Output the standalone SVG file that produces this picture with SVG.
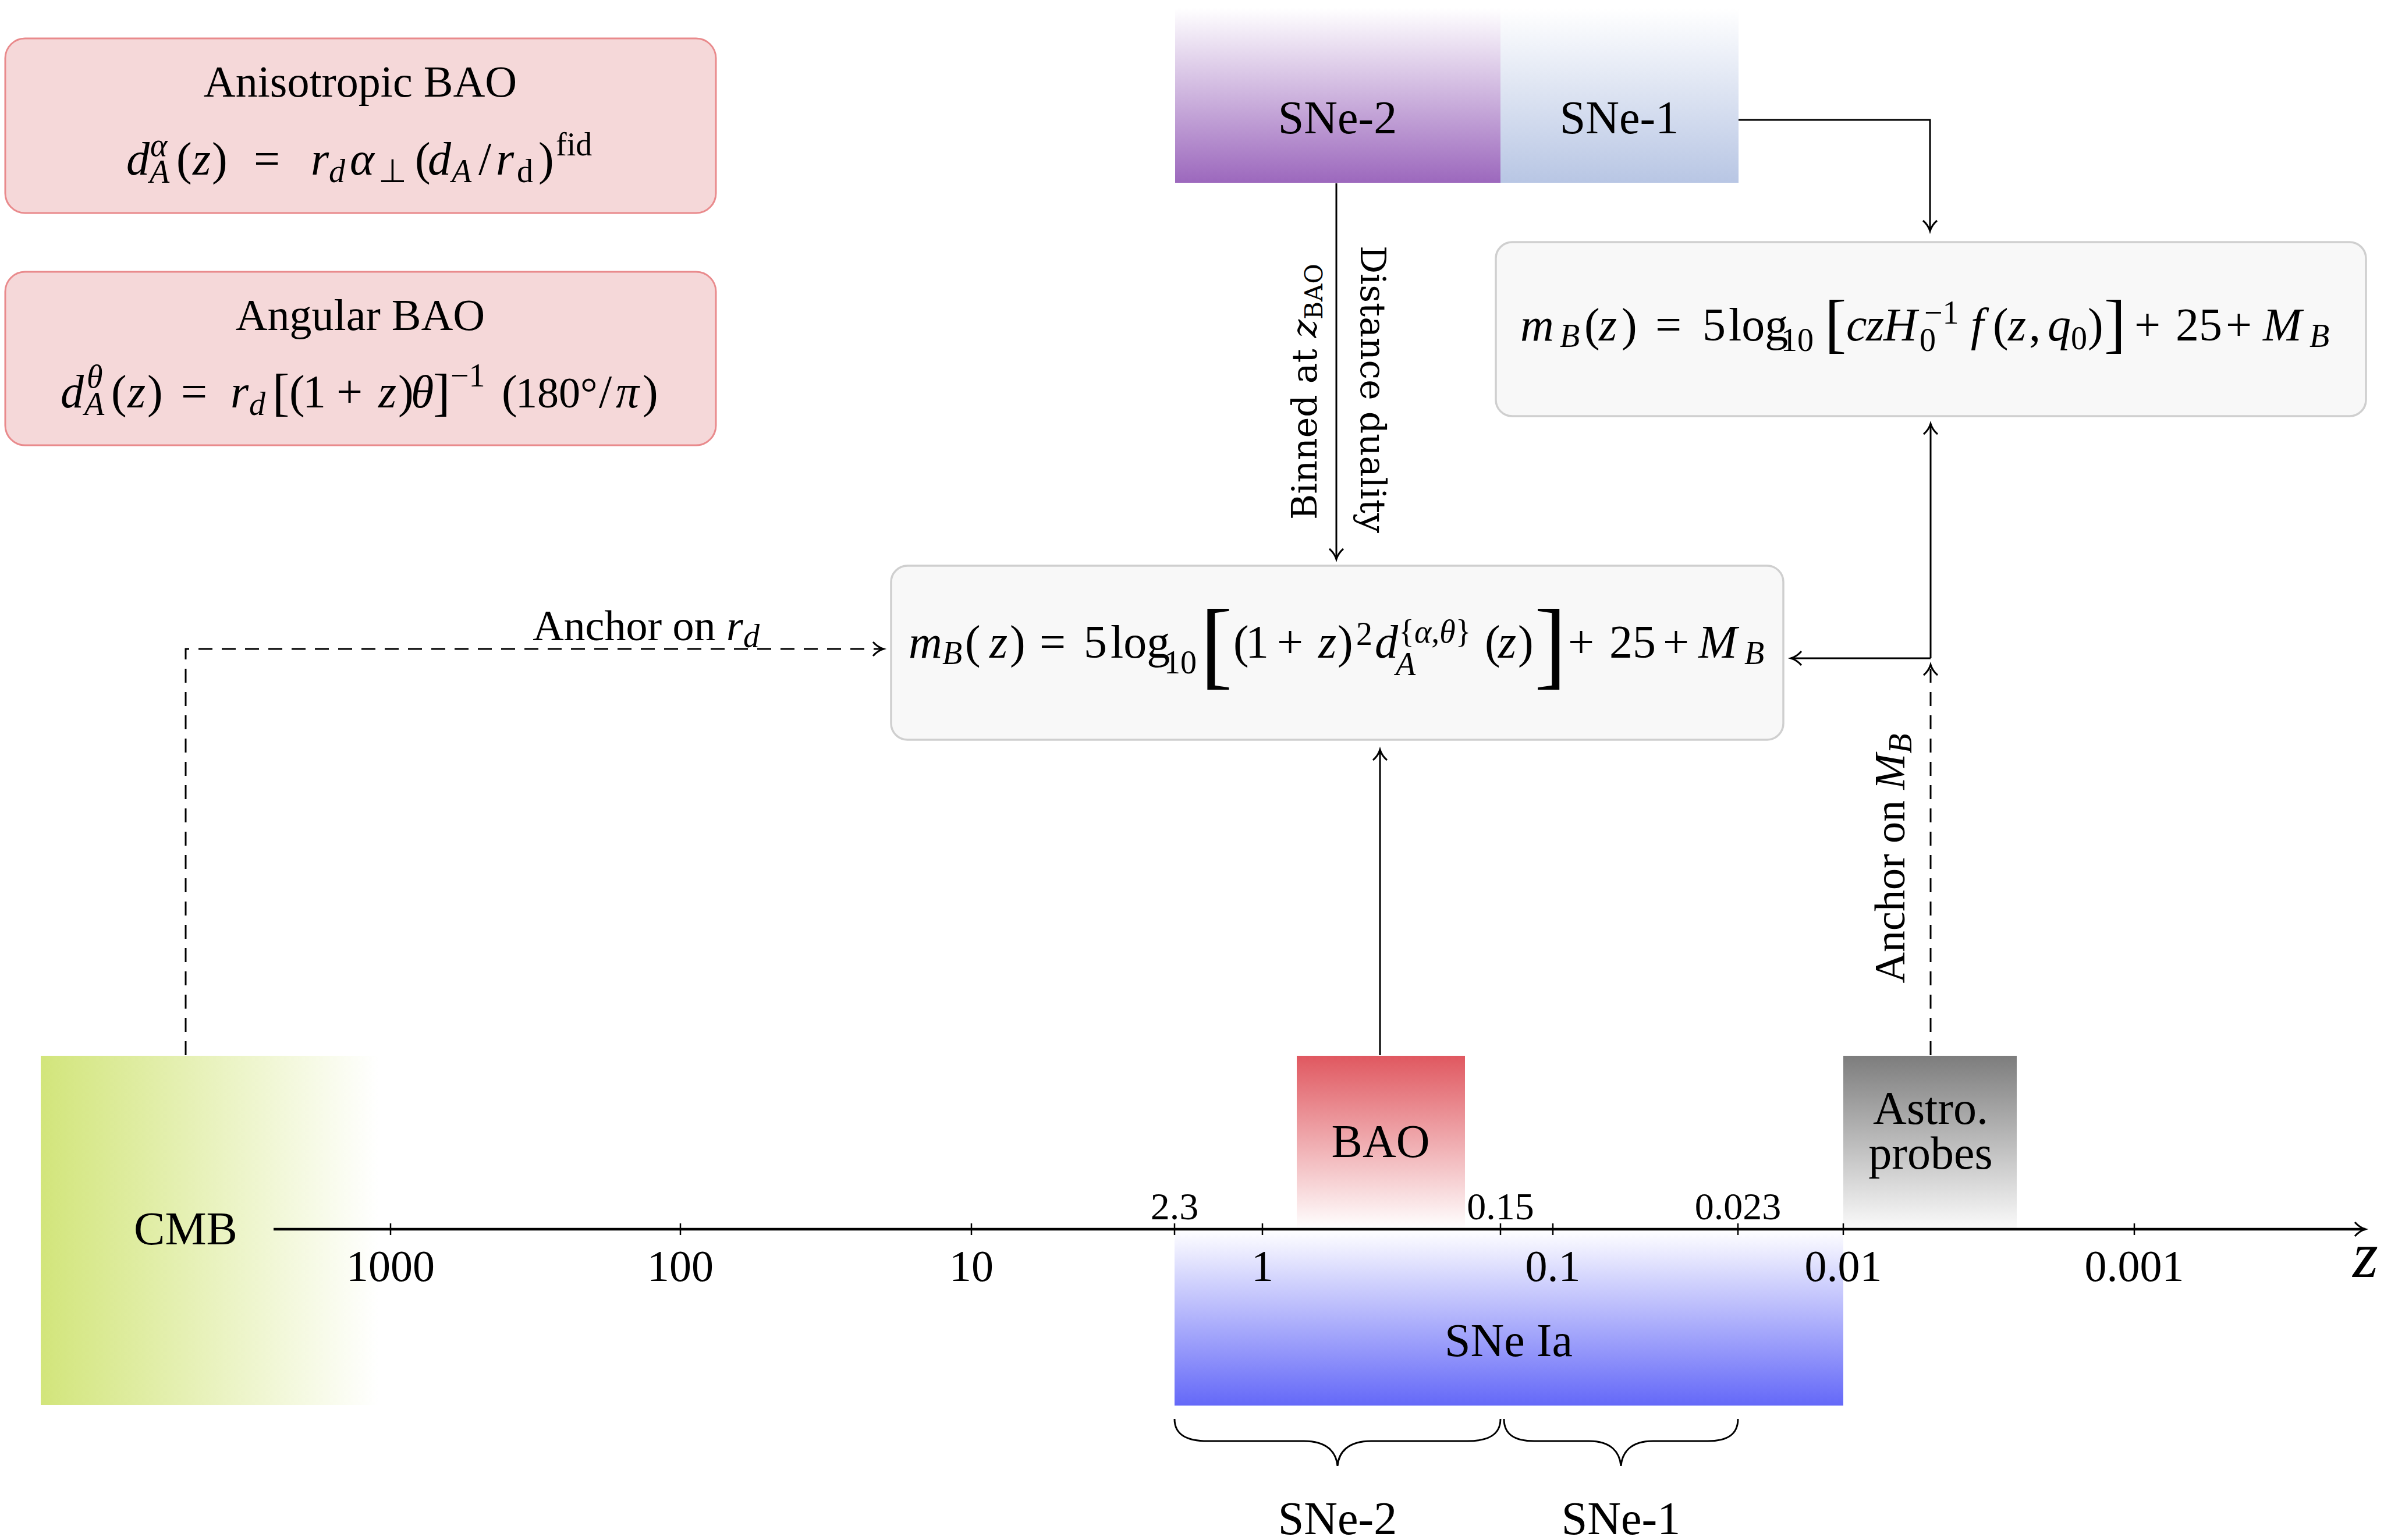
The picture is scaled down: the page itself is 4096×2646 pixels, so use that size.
<svg xmlns="http://www.w3.org/2000/svg" width="4096" height="2646" viewBox="0 0 4096 2646">
<style>
text{font-family:"Liberation Serif","Times New Roman",serif;fill:#000}
.i{font-style:italic}
.m{font-size:80px}
.s{font-size:56px}
.lbl{font-size:80px}
.tk{font-size:76px}
.tk2{font-size:66px}
.ttl{font-size:76px}
.an{font-size:74px}
.dv{font-family:"DejaVu Serif",serif;font-size:60px}
.pink{fill:#f5d8d9;stroke:#e98a8c;stroke-width:3}
.gray{fill:#f8f8f8;stroke:#cfcfcf;stroke-width:3.5}
.ln{fill:none;stroke:#000;stroke-width:3}
.dash{fill:none;stroke:#000;stroke-width:3;stroke-dasharray:24 16}
.tick{stroke:#000;stroke-width:2.5}
.brace{fill:none;stroke:#000;stroke-width:3}
</style>
<defs>
<marker id="arr" viewBox="-22 -16 26 32" refX="0" refY="0" markerWidth="26" markerHeight="32" markerUnits="userSpaceOnUse" orient="auto" overflow="visible">
<path d="M -18 -12 C -12 -5 -5 -1.5 0 0 C -5 1.5 -12 5 -18 12" fill="none" stroke="#000" stroke-width="3"/>
</marker>
<linearGradient id="gCMB" x1="0" y1="0" x2="1" y2="0"><stop offset="0" stop-color="#d2e57b"/><stop offset="1" stop-color="#ffffff"/></linearGradient>
<linearGradient id="gBAO" x1="0" y1="0" x2="0" y2="1"><stop offset="0" stop-color="#e05860"/><stop offset="1" stop-color="#ffffff"/></linearGradient>
<linearGradient id="gAstro" x1="0" y1="0" x2="0" y2="1"><stop offset="0" stop-color="#7d7d7d"/><stop offset="1" stop-color="#fafafa"/></linearGradient>
<linearGradient id="gSNe" x1="0" y1="0" x2="0" y2="1"><stop offset="0" stop-color="#ffffff"/><stop offset="1" stop-color="#6468f8"/></linearGradient>
<linearGradient id="gS2" x1="0" y1="0" x2="0" y2="1"><stop offset="0" stop-color="#ffffff"/><stop offset="1" stop-color="#9c68bd"/></linearGradient>
<linearGradient id="gS1" x1="0" y1="0" x2="0" y2="1"><stop offset="0" stop-color="#ffffff"/><stop offset="1" stop-color="#b8c6e4"/></linearGradient>
</defs>
<rect width="4096" height="2646" fill="#fff"/>

<g id="node-aniso">
<rect class="pink" x="9" y="66" width="1221" height="300" rx="34"/>
<text class="ttl" x="619" y="166" text-anchor="middle">Anisotropic BAO</text>
<text class="m"><tspan class="i" x="217" y="300">d</tspan><tspan class="i s" x="258" y="268">α</tspan><tspan class="i s" x="257" y="314">A</tspan><tspan x="303" y="300">(</tspan><tspan class="i" x="331" y="300">z</tspan><tspan x="364" y="300">)</tspan><tspan x="436" y="300">=</tspan><tspan class="i" x="534" y="300">r</tspan><tspan class="i s" x="565" y="313">d</tspan><tspan class="i" x="601" y="300">α</tspan><tspan class="s" x="650" y="313">⊥</tspan><tspan x="713" y="300">(</tspan><tspan class="i" x="735" y="300">d</tspan><tspan class="i s" x="776" y="313">A</tspan><tspan x="822" y="300">/</tspan><tspan class="i" x="852" y="300">r</tspan><tspan class="s" x="888" y="313">d</tspan><tspan x="925" y="300">)</tspan><tspan class="s" x="955" y="267">fid</tspan></text>
</g>

<g id="node-angular">
<rect class="pink" x="9" y="467" width="1221" height="298" rx="34"/>
<text class="ttl" x="619" y="567" text-anchor="middle">Angular BAO</text>
<text class="m"><tspan class="i" x="104" y="700">d</tspan><tspan class="i s" x="149" y="666">θ</tspan><tspan class="i s" x="145" y="713">A</tspan><tspan x="191" y="700">(</tspan><tspan class="i" x="219" y="700">z</tspan><tspan x="253" y="700">)</tspan><tspan x="311" y="700">=</tspan><tspan class="i" x="396" y="700">r</tspan><tspan class="i s" x="428" y="713">d</tspan><tspan x="468" y="704" style="font-size:88px">[</tspan><tspan x="497" y="700">(</tspan><tspan x="520" y="700">1</tspan><tspan x="578" y="700">+</tspan><tspan class="i" x="650" y="700">z</tspan><tspan x="684" y="700">)</tspan><tspan class="i" x="706" y="700">θ</tspan><tspan x="744" y="704" style="font-size:88px">]</tspan><tspan class="s" x="774" y="664">−1</tspan><tspan x="862" y="700">(</tspan><tspan x="886" y="700" style="font-size:74px">180°</tspan><tspan x="1029" y="700">/</tspan><tspan class="i" x="1058" y="700">π</tspan><tspan x="1104" y="700">)</tspan></text>
</g>

<g id="node-sne2-top">
<rect x="2019" y="14" width="559" height="300" fill="url(#gS2)"/>
<text class="lbl" x="2298" y="229" text-anchor="middle">SNe-2</text>
</g>
<g id="node-sne1-top">
<rect x="2578" y="14" width="409" height="300" fill="url(#gS1)"/>
<text class="lbl" x="2782" y="229" text-anchor="middle">SNe-1</text>
</g>

<g id="node-eq-top">
<rect class="gray" x="2570" y="416" width="1495" height="299" rx="28"/>
<text class="m"><tspan class="i" x="2612" y="585">m</tspan><tspan class="i s" x="2680" y="596">B</tspan><tspan x="2722" y="585">(</tspan><tspan class="i" x="2747" y="585">z</tspan><tspan x="2786" y="585">)</tspan><tspan x="2844" y="585">=</tspan><tspan x="2925" y="585">5</tspan><tspan x="2970" y="585">log</tspan><tspan class="s" x="3060" y="603">10</tspan><tspan x="3135" y="593" style="font-size:112px">[</tspan><tspan class="i" x="3172" y="585">c</tspan><tspan class="i" x="3206" y="585">z</tspan><tspan class="i" x="3236" y="585">H</tspan><tspan class="s" x="3298" y="603">0</tspan><tspan class="s" x="3306" y="556">−1</tspan><tspan class="i" x="3386" y="585">f</tspan><tspan x="3424" y="585">(</tspan><tspan class="i" x="3450" y="585">z</tspan><tspan x="3486" y="585">,</tspan><tspan class="i" x="3518" y="585">q</tspan><tspan class="s" x="3558" y="600">0</tspan><tspan x="3587" y="585">)</tspan><tspan x="3615" y="593" style="font-size:112px">]</tspan><tspan x="3667" y="585">+</tspan><tspan x="3738" y="585">25</tspan><tspan x="3824" y="585">+</tspan><tspan class="i" x="3888" y="585">M</tspan><tspan class="i s" x="3968" y="596">B</tspan></text>
</g>

<g id="node-eq-mid">
<rect class="gray" x="1531" y="972" width="1533" height="299" rx="28"/>
<text class="m"><tspan class="i" x="1561" y="1130">m</tspan><tspan class="i s" x="1619" y="1141">B</tspan><tspan x="1658" y="1130">(</tspan><tspan class="i" x="1700" y="1130">z</tspan><tspan x="1735" y="1130">)</tspan><tspan x="1786" y="1130">=</tspan><tspan x="1862" y="1130">5</tspan><tspan x="1908" y="1130">log</tspan><tspan class="s" x="2000" y="1157">10</tspan><tspan x="2062" y="1163" style="font-size:167px">[</tspan><tspan x="2119" y="1130">(</tspan><tspan x="2140" y="1130">1</tspan><tspan x="2194" y="1130">+</tspan><tspan class="i" x="2265" y="1130">z</tspan><tspan x="2298" y="1130">)</tspan><tspan class="s" x="2330" y="1108">2</tspan><tspan class="i" x="2362" y="1130">d</tspan><tspan class="i s" x="2398" y="1160">A</tspan><tspan class="s" x="2403" y="1104">{<tspan class="i">α</tspan>,<tspan class="i">θ</tspan>}</tspan><tspan x="2551" y="1130">(</tspan><tspan class="i" x="2574" y="1130">z</tspan><tspan x="2608" y="1130">)</tspan><tspan x="2636" y="1163" style="font-size:167px">]</tspan><tspan x="2694" y="1130">+</tspan><tspan x="2765" y="1130">25</tspan><tspan x="2857" y="1130">+</tspan><tspan class="i" x="2918" y="1130">M</tspan><tspan class="i s" x="2997" y="1141">B</tspan></text>
</g>

<g id="node-cmb">
<rect x="70" y="1814" width="580" height="600" fill="url(#gCMB)"/>
<text class="lbl" x="319" y="2138" text-anchor="middle">CMB</text>
</g>
<g id="node-snia">
<rect x="2018" y="2112" width="1149" height="303" fill="url(#gSNe)"/>
<text class="lbl" x="2592" y="2330" text-anchor="middle">SNe Ia</text>
</g>
<g id="node-bao">
<rect x="2228" y="1814" width="289" height="298" fill="url(#gBAO)"/>
<text class="lbl" x="2372" y="1988" text-anchor="middle">BAO</text>
</g>
<g id="node-astro">
<rect x="3167" y="1814" width="298" height="298" fill="url(#gAstro)"/>
<text class="lbl" x="3317" y="1931" text-anchor="middle">Astro.</text>
<text class="lbl" x="3317" y="2008" text-anchor="middle">probes</text>
</g>

<g id="axis">
<line x1="470" y1="2112" x2="4064" y2="2112" stroke="#000" stroke-width="4.5" marker-end="url(#arr)"/>
<g class="tick">
<line x1="671" y1="2102" x2="671" y2="2122"/>
<line x1="1169" y1="2102" x2="1169" y2="2122"/>
<line x1="1669" y1="2102" x2="1669" y2="2122"/>
<line x1="2018" y1="2102" x2="2018" y2="2122"/>
<line x1="2169" y1="2102" x2="2169" y2="2122"/>
<line x1="2578" y1="2102" x2="2578" y2="2122"/>
<line x1="2668" y1="2102" x2="2668" y2="2122"/>
<line x1="2986" y1="2102" x2="2986" y2="2122"/>
<line x1="3167" y1="2102" x2="3167" y2="2122"/>
<line x1="3667" y1="2102" x2="3667" y2="2122"/>
</g>
<text class="tk" x="671" y="2201" text-anchor="middle">1000</text>
<text class="tk" x="1169" y="2201" text-anchor="middle">100</text>
<text class="tk" x="1669" y="2201" text-anchor="middle">10</text>
<text class="tk" x="2169" y="2201" text-anchor="middle">1</text>
<text class="tk" x="2668" y="2201" text-anchor="middle">0.1</text>
<text class="tk" x="3167" y="2201" text-anchor="middle">0.01</text>
<text class="tk" x="3667" y="2201" text-anchor="middle">0.001</text>
<text class="tk2" x="2018" y="2095" text-anchor="middle">2.3</text>
<text class="tk2" x="2578" y="2095" text-anchor="middle">0.15</text>
<text class="tk2" x="2986" y="2095" text-anchor="middle">0.023</text>
<text class="i" x="4064" y="2194" text-anchor="middle" style="font-size:112px">z</text>
</g>

<g id="braces">
<path class="brace" d="M 2018 2438 C 2018 2466 2040 2476 2075 2476 H 2240 C 2280 2476 2296 2495 2298 2519 C 2300 2495 2316 2476 2356 2476 H 2521 C 2556 2476 2578 2466 2578 2438"/>
<path class="brace" d="M 2584 2438 C 2584 2466 2604 2476 2636 2476 H 2730 C 2768 2476 2783 2495 2785 2519 C 2787 2495 2802 2476 2840 2476 H 2934 C 2966 2476 2986 2466 2986 2438"/>
<text class="lbl" x="2298" y="2636" text-anchor="middle">SNe-2</text>
<text class="lbl" x="2785" y="2636" text-anchor="middle">SNe-1</text>
</g>

<g id="connectors">
<path class="ln" d="M 2296 315 V 961" marker-end="url(#arr)"/>
<path class="ln" d="M 2987 206 H 3316 V 397" marker-end="url(#arr)"/>
<path class="dash" d="M 319 1813 V 1115 H 1518" marker-end="url(#arr)"/>
<path class="ln" d="M 2371 1813 V 1288" marker-end="url(#arr)"/>
<path class="dash" d="M 3317 1813 V 1142" marker-end="url(#arr)"/>
<path class="ln" d="M 3317 1131 H 3077" marker-end="url(#arr)"/>
<path class="ln" d="M 3317 1131 V 728" marker-end="url(#arr)"/>
<text class="an" x="1110" y="1100" text-anchor="middle">Anchor on <tspan class="i">r</tspan><tspan class="i s" dy="12">d</tspan></text>
<text class="dv" transform="translate(2262 673) rotate(-90)" text-anchor="middle">Binned at <tspan class="i">z</tspan><tspan style="font-size:42px" dy="10">BAO</tspan></text>
<text class="dv" transform="translate(2338 669) rotate(90)" text-anchor="middle">Distance duality</text>
<text class="an" transform="translate(3272 1475) rotate(-90)" text-anchor="middle">Anchor on <tspan class="i">M</tspan><tspan class="i s" dy="12">B</tspan></text>
</g>
</svg>
